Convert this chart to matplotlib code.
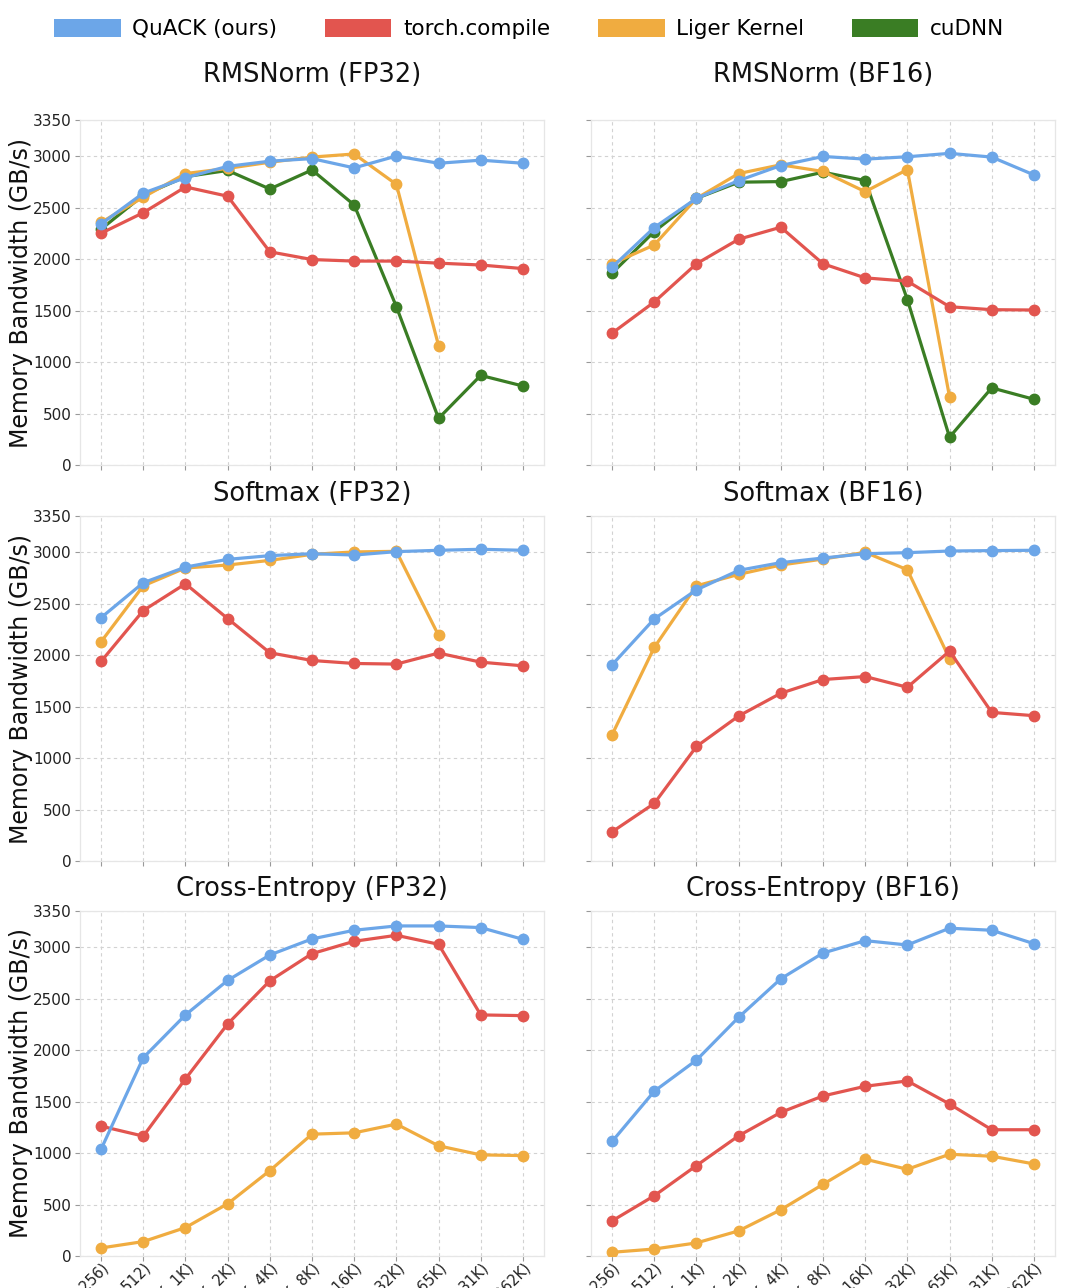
import numpy as np
import matplotlib
matplotlib.use("Agg")
import matplotlib.pyplot as plt
from matplotlib.patches import Patch

# x categories: (M, N) shapes
shapes = ["(32K, 256)", "(16K, 512)", "(8K, 1K)", "(4K, 2K)", "(2K, 4K)", "(1K, 8K)",
          "(512, 16K)", "(256, 32K)", "(128, 65K)", "(64, 131K)", "(32, 262K)"]

# RMSNorm FP32
rms32_quack = [2340, 2640, 2790, 2900, 2950, 2975, 2885, 3000, 2930, 2960, 2930]
rms32_torch = [2250, 2450, 2700, 2610, 2070, 1995, 1980, 1980, 1960, 1942, 1907]
rms32_liger = [2355, 2600, 2830, 2880, 2940, 2990, 3020, 2725, 1160]
rms32_cudnn = [2290, 2620, 2800, 2860, 2680, 2865, 2525, 1538, 453, 870, 767]

# RMSNorm BF16
rms16_quack = [1920, 2306, 2589, 2762, 2908, 2996, 2970, 2993, 3026, 2990, 2817]
rms16_torch = [1280, 1583, 1954, 2192, 2309, 1954, 1817, 1785, 1537, 1508, 1505]
rms16_liger = [1954, 2137, 2589, 2830, 2915, 2850, 2654, 2869, 661]
rms16_cudnn = [1863, 2267, 2589, 2746, 2752, 2843, 2762, 1606, 270, 749, 638]

# Softmax FP32
sm32_quack = [2363, 2702, 2854, 2929, 2965, 2984, 2971, 3004, 3017, 3027, 3017]
sm32_torch = [1938, 2432, 2692, 2354, 2022, 1947, 1918, 1912, 2019, 1931, 1895]
sm32_liger = [2129, 2672, 2845, 2874, 2919, 2978, 3001, 3007, 2191]

# Softmax BF16
sm16_quack = [1905, 2351, 2633, 2822, 2897, 2942, 2984, 2994, 3010, 3014, 3017]
sm16_torch = [283, 559, 1112, 1408, 1629, 1762, 1791, 1687, 2038, 1443, 1411]
sm16_liger = [1226, 2074, 2672, 2783, 2874, 2932, 2997, 2828, 1964]

# Cross-Entropy FP32
ce32_quack = [1037, 1925, 2341, 2676, 2923, 3079, 3163, 3205, 3205, 3189, 3075]
ce32_torch = [1261, 1164, 1720, 2253, 2672, 2936, 3056, 3114, 3027, 2341, 2334]
ce32_liger = [78, 140, 276, 507, 829, 1183, 1196, 1281, 1070, 982, 975]

# Cross-Entropy BF16
ce16_quack = [1112, 1600, 1902, 2318, 2692, 2942, 3062, 3020, 3183, 3163, 3033]
ce16_torch = [341, 585, 878, 1167, 1395, 1554, 1648, 1700, 1476, 1226, 1226]
ce16_liger = [36, 68, 127, 244, 449, 696, 940, 842, 988, 969, 894]

colors = {"QuACK (ours)": "#6CA6E8", "torch.compile": "#E2554F",
          "Liger Kernel": "#F0AC40", "cuDNN": "#3A7D24"}

panels = [
    ("RMSNorm (FP32)", {"QuACK (ours)": rms32_quack, "torch.compile": rms32_torch,
                        "Liger Kernel": rms32_liger, "cuDNN": rms32_cudnn}),
    ("RMSNorm (BF16)", {"QuACK (ours)": rms16_quack, "torch.compile": rms16_torch,
                        "Liger Kernel": rms16_liger, "cuDNN": rms16_cudnn}),
    ("Softmax (FP32)", {"QuACK (ours)": sm32_quack, "torch.compile": sm32_torch,
                        "Liger Kernel": sm32_liger}),
    ("Softmax (BF16)", {"QuACK (ours)": sm16_quack, "torch.compile": sm16_torch,
                        "Liger Kernel": sm16_liger}),
    ("Cross-Entropy (FP32)", {"QuACK (ours)": ce32_quack, "torch.compile": ce32_torch,
                              "Liger Kernel": ce32_liger}),
    ("Cross-Entropy (BF16)", {"QuACK (ours)": ce16_quack, "torch.compile": ce16_torch,
                              "Liger Kernel": ce16_liger}),
]

W, H = 1080, 1288
fig = plt.figure(figsize=(W / 100, H / 100), dpi=100)

lefts = [80, 591]
tops = [120, 516, 911]
title_pads = [27, 11, 11]
aw, ah = 464, 345

# draw order: QuACK on top
draw_order = ["cuDNN", "Liger Kernel", "torch.compile", "QuACK (ours)"]

for i, (title, series) in enumerate(panels):
    r, c = divmod(i, 2)
    ax = fig.add_axes([lefts[c] / W, 1 - (tops[r] + ah) / H, aw / W, ah / H])
    for name in draw_order:
        if name not in series:
            continue
        vals = series[name]
        ax.plot(np.arange(len(vals)), vals, "-o", color=colors[name], lw=2.3, ms=7.5,
                solid_capstyle="round", zorder=3)
    ax.set_xlim(-0.5, len(shapes) - 0.5)
    ax.set_ylim(0, 3350)
    ax.set_yticks([0, 500, 1000, 1500, 2000, 2500, 3000, 3350])
    ax.set_xticks(np.arange(len(shapes)))
    ax.grid(True, linestyle=(0, (3, 3)), color="#d2d2d2", lw=0.8)
    ax.set_axisbelow(True)
    for s in ax.spines.values():
        s.set_color("#e6e6e6")
        s.set_linewidth(0.9)
    ax.tick_params(axis="both", length=3.5, width=0.8, color="#999999",
                   labelsize=11, labelcolor="#222222")
    ax.tick_params(axis="y", pad=2.5)
    ax.tick_params(axis="x", pad=0)
    ax.set_title(title, fontsize=18.5, pad=title_pads[r], color="#111111")
    if c == 0:
        ax.set_ylabel("Memory Bandwidth (GB/s)", fontsize=17, labelpad=0, color="#111111")
    else:
        ax.set_yticklabels([])
    if r == 2:
        ax.set_xticklabels(shapes, rotation=45, ha="right", rotation_mode="anchor", fontsize=10.5)
    else:
        ax.set_xticklabels([])

handles = [Patch(facecolor=colors[n], edgecolor="none", label=n) for n in colors]
fig.legend(handles=handles, loc="upper center", bbox_to_anchor=(0.49, 1.0), ncol=4,
           frameon=False, fontsize=15.5, handlelength=3.1, handleheight=0.85,
           columnspacing=2.2, handletextpad=0.55)

fig.savefig("out.png", dpi=100)
